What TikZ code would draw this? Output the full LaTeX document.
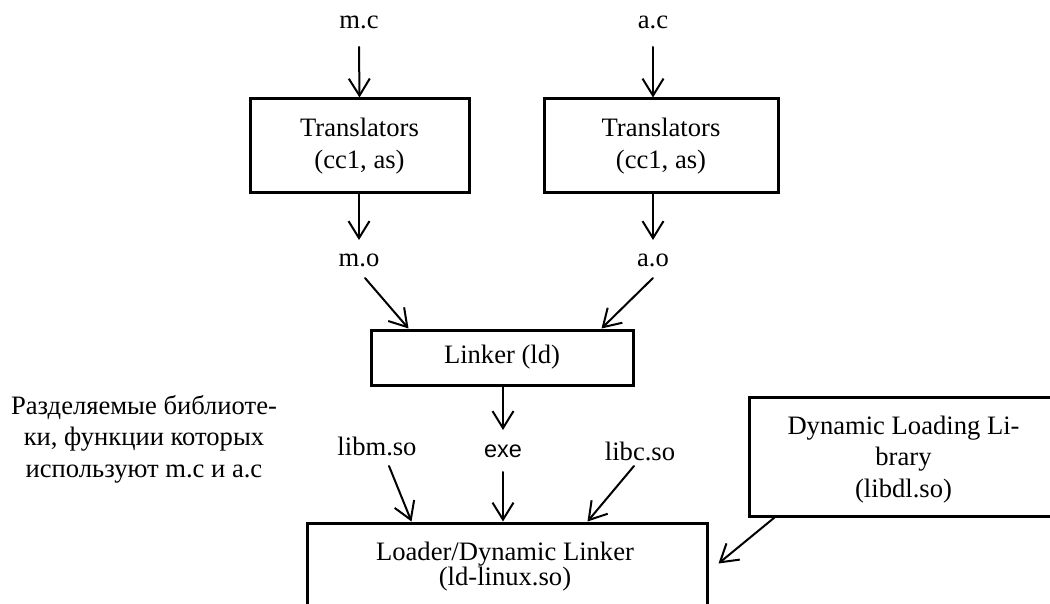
\documentclass[tikz,border=0pt]{standalone}
\usepackage{fontspec}
\setmainfont{Liberation Serif}
\newfontfamily\exefont{Liberation Sans}
\usetikzlibrary{arrows.meta,calc}
\begin{document}
\begin{tikzpicture}[x=1pt,y=-1pt,
  every node/.style={font=\fontsize{26.6}{31.5}\selectfont, inner sep=0pt},
  lbl/.style={anchor=base},
  box/.style={draw, line width=3pt, align=center},
  flow/.style={line width=2pt, line join=round, line cap=round,
    -{Straight Barb[length=17pt,width=21pt,line width=2pt]}}]
\useasboundingbox (0,0) rectangle (1050,604);
\clip (0,0) rectangle (1050,604);

% source files
\node[lbl] (mc) at (359,29) {m.c};
\node[lbl] (ac) at (653,29) {a.c};

% translators
\node[box, minimum width=219pt, minimum height=94pt] (tr1) at (359.5,146) {Translators\\(cc1, as)};
\node[box, minimum width=234pt, minimum height=94pt] (tr2) at (661,146) {Translators\\(cc1, as)};

% object files
\node[lbl] (mo) at (359,267) {m.o};
\node[lbl] (ao) at (653,267) {a.o};

% linker
\node[box, minimum width=262pt, minimum height=55pt] (linker) at (502,357.5) {Linker (ld)};

% shared libraries and executable
\node[lbl] (libm) at (377,455) {libm.so};
\node[lbl, font=\exefont\fontsize{23.5}{28}\selectfont] (exe) at (503,457) {exe};
\node[lbl] (libc) at (640,460) {libc.so};

\node[align=center] (note) at (144,439) {Разделяемые библиоте-\\ки, функции которых\\используют m.c и a.c};

% loader box runs past the lower edge
\node[draw, line width=3pt, minimum width=400pt, minimum height=117pt] (loader) at (507,581.5) {};
\node[align=center, font=\fontsize{26.6}{25}\selectfont] (loadertext) at (505,567) {Loader/Dynamic Linker\\(ld-linux.so)};

% dynamic loading library box runs past the right edge
\node[draw, line width=3pt, minimum width=309pt, minimum height=119pt] (dll) at (903.5,456.5) {};
\node[align=center] (dlltext) at (903.5,459.5) {Dynamic Loading Li-\\brary\\(libdl.so)};

% connectors
\draw[flow] ($(mc.base)+(0,18)$) -- (tr1.north);
\draw[flow] ($(ac.base)+(0,18)$) -- (ac |- tr2.north);
\draw[flow] (mo |- tr1.south) -- ($(mo.base)+(0,-27)$);
\draw[flow] (ao |- tr2.south) -- ($(ao.base)+(0,-27)$);
\draw[flow] ($(mo.base)+(6,11)$) -- ($(linker.north west)+(39,0)$);
\draw[flow] ($(ao.base)+(0,11)$) -- ($(linker.north east)+(-33,0)$);
\draw[flow] (exe |- linker.south) -- ($(exe.base)+(0,-27)$);
\draw[flow] ($(exe.base)+(0,15)$) -- (exe |- loader.north);
\draw[flow] ($(libm.base)+(12,11)$) -- ($(loader.north west)+(106,0)$);
\draw[flow] ($(libc.base)+(-6,6)$) -- ($(loader.north east)+(-121,0)$);
\draw[flow] ($(dll.south west)+(27,0)$) -- ($(loader.north east)+(10,42)$);
\end{tikzpicture}
\end{document}
